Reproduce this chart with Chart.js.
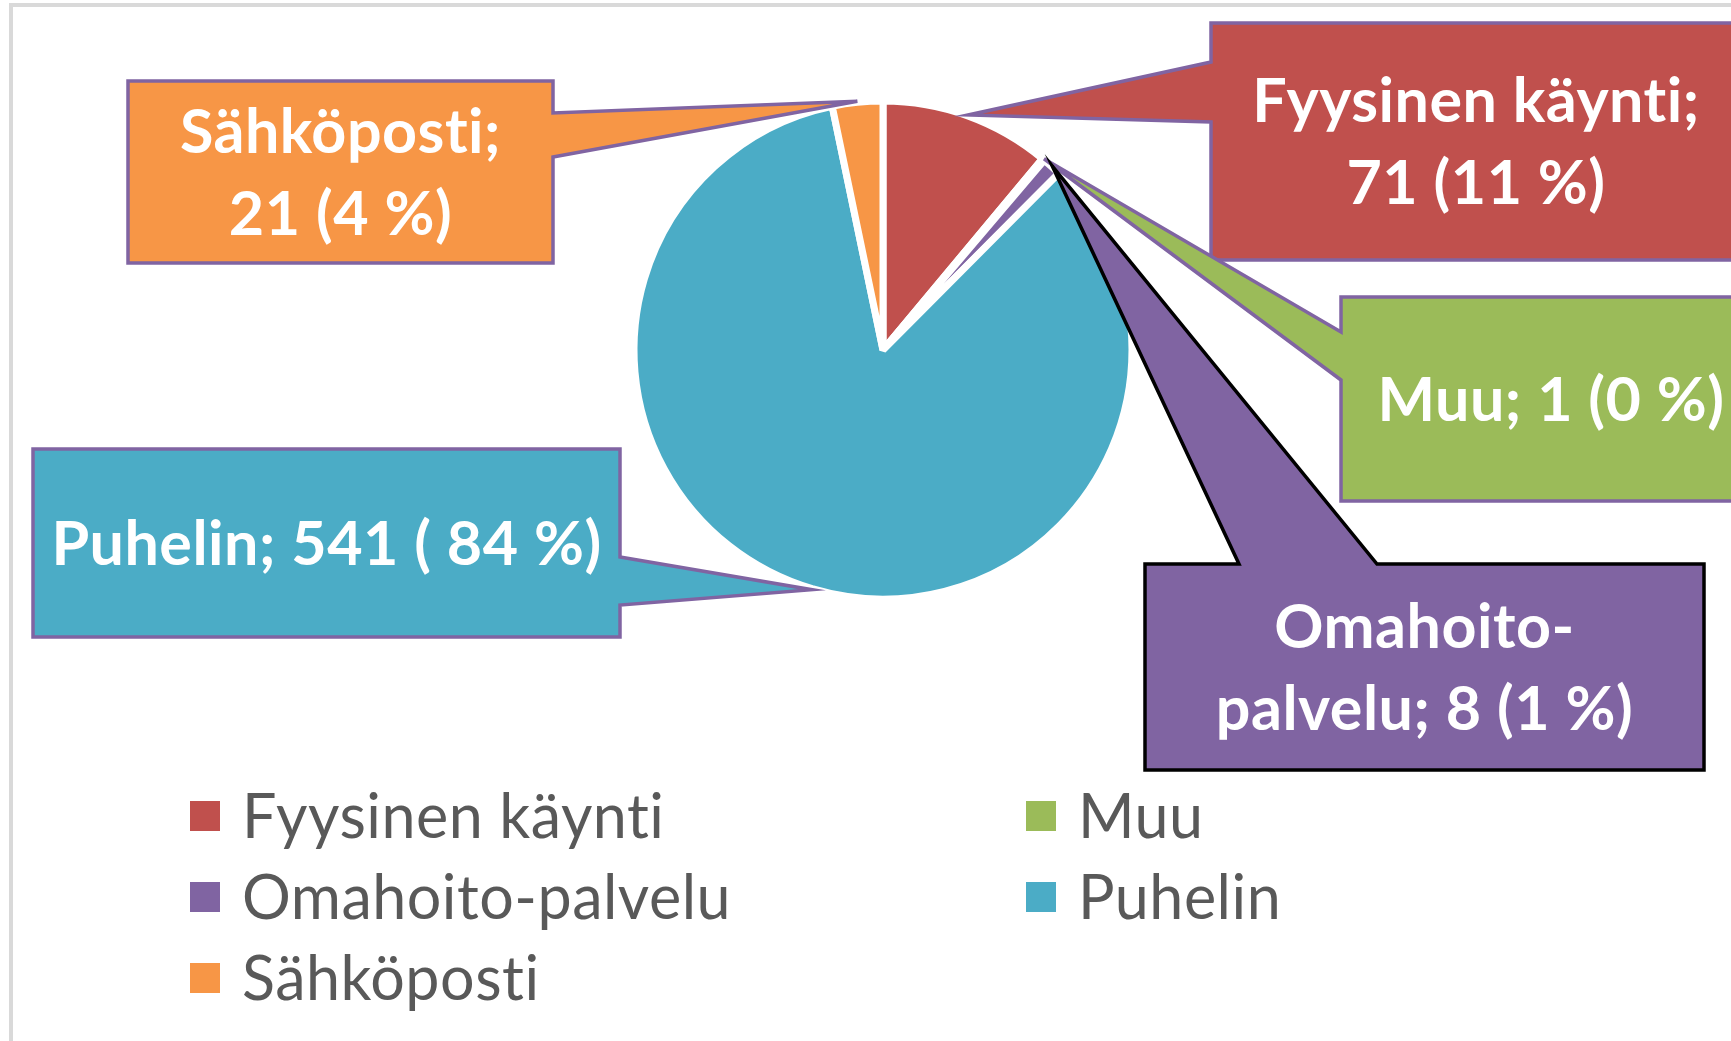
<!DOCTYPE html>
<html>
<head>
<meta charset="utf-8">
<script src="https://cdn.jsdelivr.net/npm/chart.js@4/dist/chart.umd.min.js"></script>
<style>
  html, body { margin: 0; padding: 0; background: #fff; overflow: hidden; }
  canvas { display: block; }
</style>
</head>
<body>
<canvas id="myChart" width="1731" height="1041"></canvas>
<script>
// yhteydenottotavat (alphabetical, as in the legend)
var categories = ["Fyysinen käynti", "Muu", "Omahoito-palvelu", "Puhelin", "Sähköposti"];
var values = [71, 1, 8, 541, 21];
var percentLabels = ["11 %", "0 %", "1 %", " 84 %", "4 %"];
var sliceColors = ["#C0504D", "#9BBB59", "#8064A2", "#4BACC6", "#F79646"];

// callout boxes: position of each label box and where its pointer leaves the box
var calloutLayout = [
  { x: 1211, y: 23, w: 530, h: 237, side: "left", base: [62, 122], stroke: "#8064A2", maxWidth: 480 },
  { x: 1341, y: 297, w: 420, h: 204, side: "left", base: [332, 380], stroke: "#8064A2", maxWidth: 9999 },
  { x: 1145, y: 564, w: 559, h: 206, side: "top", base: [1239, 1377], stroke: "#000000", maxWidth: 450 },
  { x: 33, y: 449, w: 587, h: 188, side: "right", base: [557, 605], stroke: "#8064A2", maxWidth: 9999 },
  { x: 128, y: 81, w: 425, h: 182, side: "right", base: [113, 157], stroke: "#8064A2", maxWidth: 360 }
];
var calloutDrawOrder = [0, 1, 2, 3, 4];

var FONT = 'Lato, "Open Sans", sans-serif';

function calloutLines(ctx, i, maxW) {
  var toks = [];
  var words = categories[i].split(" ");
  words.forEach(function (w, wi) {
    var parts = w.split(/(?<=-)/);
    parts.forEach(function (p, pi) {
      toks.push({ t: p, glue: (wi === 0 && pi === 0) ? "" : (pi > 0 ? "" : " ") });
    });
  });
  toks[toks.length - 1].t += ";";
  toks.push({ t: String(values[i]), glue: " " });
  toks.push({ t: "(" + percentLabels[i] + ")", glue: " " });
  var lines = [];
  var line = toks[0].t;
  for (var k = 1; k < toks.length; k++) {
    var cand = line + toks[k].glue + toks[k].t;
    if (ctx.measureText(cand).width <= maxW) {
      line = cand;
    } else {
      lines.push(line);
      line = toks[k].t;
    }
  }
  lines.push(line);
  return lines;
}

var calloutPlugin = {
  id: "callouts",
  beforeDraw: function (chart) {
    var ctx = chart.ctx;
    ctx.save();
    ctx.strokeStyle = "#D9D9D9";
    ctx.lineWidth = 4;
    ctx.strokeRect(11, 5, 4000, 4000);
    ctx.restore();
  },
  afterDatasetsDraw: function (chart) {
    var ctx = chart.ctx;
    var arcs = chart.getDatasetMeta(0).data;
    ctx.save();
    ctx.letterSpacing = "0.5px"; // keeps Lato from using its "ti" ligature
    calloutDrawOrder.forEach(function (i) {
      var b = calloutLayout[i];
      var arc = arcs[i];
      var p = arc.getProps(["x", "y", "startAngle", "endAngle", "outerRadius"], true);
      var mid = (p.startAngle + p.endAngle) / 2;
      var tip = { x: p.x + Math.cos(mid) * (p.outerRadius + 1), y: p.y + Math.sin(mid) * (p.outerRadius + 1) };
      var x0 = b.x, y0 = b.y, x1 = b.x + b.w, y1 = b.y + b.h;
      ctx.beginPath();
      ctx.moveTo(x0, y0);
      if (b.side === "top") { ctx.lineTo(b.base[0], y0); ctx.lineTo(tip.x, tip.y); ctx.lineTo(b.base[1], y0); }
      ctx.lineTo(x1, y0);
      if (b.side === "right") { ctx.lineTo(x1, b.base[0]); ctx.lineTo(tip.x, tip.y); ctx.lineTo(x1, b.base[1]); }
      ctx.lineTo(x1, y1);
      ctx.lineTo(x0, y1);
      if (b.side === "left") { ctx.lineTo(x0, b.base[1]); ctx.lineTo(tip.x, tip.y); ctx.lineTo(x0, b.base[0]); }
      ctx.closePath();
      ctx.fillStyle = sliceColors[i];
      ctx.fill();
      ctx.lineWidth = 3.5;
      ctx.lineJoin = "miter";
      ctx.strokeStyle = b.stroke;
      ctx.stroke();

      var fs = 61;
      ctx.font = "bold " + fs + "px " + FONT;
      var lines = calloutLines(ctx, i, b.maxWidth);
      var lh = 82;
      var cap = fs * 0.72;
      var cx = b.x + b.w / 2, cy = b.y + b.h / 2;
      ctx.fillStyle = "#ffffff";
      ctx.textAlign = "center";
      ctx.textBaseline = "alphabetic";
      lines.forEach(function (ln, k) {
        var my = cy + (k - (lines.length - 1) / 2) * lh;
        ctx.fillText(ln, cx, my + cap / 2);
      });
    });
    ctx.restore();

    // legend, two columns
    var legCols = [190, 1026], legTop = 816, legRow = 81, box = 30, fsz = 61;
    ctx.save();
    ctx.letterSpacing = "0.5px";
    ctx.font = fsz + "px " + FONT;
    ctx.textAlign = "left";
    ctx.textBaseline = "alphabetic";
    categories.forEach(function (c, i) {
      var col = i % 2, row = Math.floor(i / 2);
      var lx = legCols[col], ly = legTop + row * legRow;
      ctx.fillStyle = sliceColors[i];
      ctx.fillRect(lx, ly - box / 2, box, box);
      ctx.fillStyle = "#595959";
      ctx.fillText(c, lx + box + 22, ly + fsz * 0.72 / 2);
    });
    ctx.restore();
  }
};

var myChart = new Chart(document.getElementById("myChart"), {
  type: "pie",
  data: {
    labels: categories,
    datasets: [{
      data: values,
      backgroundColor: sliceColors,
      borderColor: "#ffffff",
      borderWidth: 7,
      borderJoinStyle: "bevel",
      hoverOffset: 0
    }]
  },
  options: {
    responsive: false,
    animation: false,
    radius: 249,
    layout: { padding: { left: 633, right: 598, top: 100, bottom: 441 } },
    plugins: {
      legend: { display: false },
      tooltip: { enabled: false }
    }
  },
  plugins: [calloutPlugin]
});
</script>
</body>
</html>
